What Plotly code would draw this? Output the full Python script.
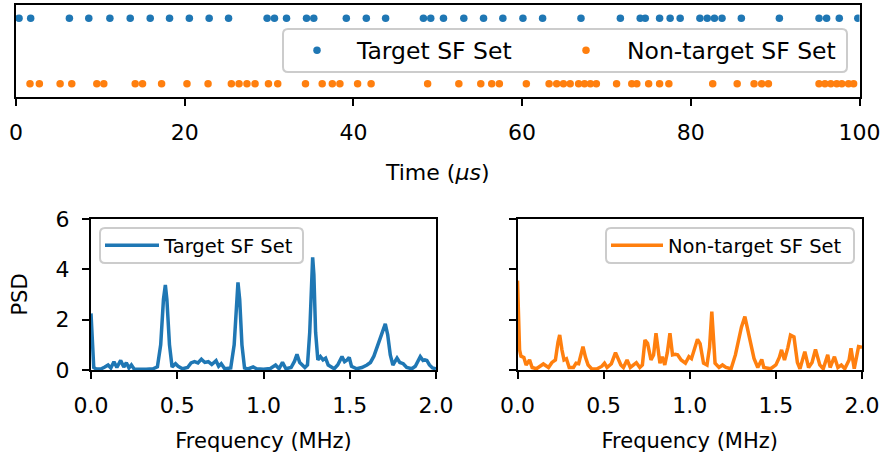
import plotly.graph_objects as go

# ---- data ----
target_times = [0.36, 1.74, 6.33, 8.63, 11.13, 13.54, 15.91, 18.2, 20.55, 22.9, 25.2, 29.77, 30.64, 32.07,
                34.44, 35.3, 39.16, 41.53, 43.82, 48.3, 49.17, 50.68, 53.09, 55.43, 57.72, 60.1, 62.43, 66.98,
                71.65, 74.0, 74.6, 76.3, 77.55, 78.74, 81.08, 81.95, 82.8, 83.7, 85.99, 90.5, 95.2, 96.1, 97.6, 99.8]
nontarget_times = [1.66, 2.77, 5.23, 6.61, 9.58, 10.41, 14.13, 15.0, 17.26, 20.27, 22.77, 25.53, 26.44, 27.38,
                   28.34, 29.93, 31.03, 34.32, 36.3, 37.5, 38.4, 40.5, 42.1, 48.8, 52.5, 55.1, 56.4, 57.3, 60.5,
                   63.2, 64.1, 64.9, 65.7, 66.7, 67.4, 68.1, 68.8, 71.2, 73.0, 73.6, 75.0, 76.3, 77.4, 82.6, 85.5,
                   87.5, 88.4, 89.2, 95.2, 95.9, 96.6, 97.3, 97.9, 98.7, 99.3]

target_freq = [0.0, 0.008, 0.016, 0.03, 0.06, 0.08, 0.099, 0.115, 0.133, 0.15, 0.172, 0.19, 0.205, 0.22, 0.234,
               0.25, 0.28, 0.32, 0.36, 0.385, 0.404, 0.42, 0.431, 0.44, 0.455, 0.47, 0.49, 0.505, 0.53, 0.56,
               0.58, 0.6, 0.62, 0.64, 0.66, 0.68, 0.7, 0.725, 0.74, 0.755, 0.775, 0.81, 0.83, 0.843, 0.852,
               0.862, 0.875, 0.89, 0.91, 0.94, 0.96, 1.0, 1.04, 1.07, 1.09, 1.11, 1.13, 1.16, 1.18, 1.194,
               1.21, 1.24, 1.255, 1.268, 1.278, 1.285, 1.292, 1.302, 1.315, 1.33, 1.345, 1.36, 1.375, 1.39,
               1.41, 1.43, 1.455, 1.47, 1.485, 1.497, 1.51, 1.54, 1.57, 1.6, 1.62, 1.64, 1.66, 1.685, 1.706,
               1.72, 1.735, 1.75, 1.774, 1.79, 1.81, 1.83, 1.86, 1.88, 1.895, 1.909, 1.925, 1.935, 1.947,
               1.962, 1.98, 2.0]
target_psd = [2.25, 1.2, 0.1, 0.04, 0.05, 0.12, 0.2, 0.08, 0.33, 0.1, 0.38, 0.12, 0.29, 0.08, 0.2,
              0.04, 0.03, 0.03, 0.05, 0.13, 1.0, 2.8, 3.38, 2.8, 1.0, 0.12, 0.25, 0.15, 0.05, 0.1,
              0.28, 0.33, 0.28, 0.43, 0.3, 0.33, 0.22, 0.37, 0.15, 0.25, 0.05, 0.08, 1.0, 2.8, 3.48,
              2.8, 1.0, 0.08, 0.04, 0.12, 0.05, 0.03, 0.06, 0.2, 0.05, 0.3, 0.05, 0.1, 0.35, 0.62,
              0.3, 0.1, 0.2, 1.5, 3.8, 4.48, 3.8, 1.5, 0.4, 0.53, 0.4, 0.47, 0.2, 0.12,
              0.05, 0.2, 0.53, 0.33, 0.4, 0.5, 0.15, 0.05, 0.1, 0.2, 0.3, 0.55, 0.93, 1.5, 1.83,
              1.4, 0.6, 0.2, 0.47, 0.3, 0.25, 0.1, 0.05, 0.15, 0.35, 0.53, 0.38, 0.4, 0.38,
              0.2, 0.08, 0.05]

nontarget_freq = [0.0, 0.006, 0.012, 0.02, 0.037, 0.05, 0.07, 0.085, 0.11, 0.15, 0.18, 0.2, 0.22, 0.235, 0.245,
                  0.258, 0.27, 0.284, 0.3, 0.325, 0.34, 0.355, 0.37, 0.38, 0.395, 0.41, 0.43, 0.46, 0.49,
                  0.505, 0.52, 0.545, 0.569, 0.585, 0.6, 0.615, 0.636, 0.655, 0.69, 0.71, 0.725, 0.74, 0.755,
                  0.775, 0.79, 0.804, 0.815, 0.827, 0.84, 0.855, 0.87, 0.885, 0.9, 0.915, 0.93, 0.95, 0.975,
                  0.995, 1.01, 1.03, 1.045, 1.06, 1.08, 1.1, 1.115, 1.128, 1.14, 1.147, 1.17, 1.19, 1.21,
                  1.24, 1.265, 1.283, 1.3, 1.32, 1.34, 1.36, 1.373, 1.395, 1.418, 1.43, 1.47, 1.5, 1.52,
                  1.533, 1.55, 1.57, 1.585, 1.605, 1.625, 1.64, 1.668, 1.69, 1.71, 1.73, 1.755, 1.775,
                  1.801, 1.815, 1.84, 1.86, 1.88, 1.9, 1.925, 1.936, 1.955, 1.98, 2.0]
nontarget_psd = [3.55, 2.0, 0.8, 0.55, 0.5, 0.2, 0.4, 0.1, 0.05, 0.24, 0.1, 0.3, 0.4, 1.1, 1.39,
                 0.8, 0.4, 0.45, 0.1, 0.1, 0.27, 0.25, 0.7, 0.93, 0.5, 0.2, 0.05, 0.04, 0.15,
                 0.27, 0.1, 0.25, 0.69, 0.4, 0.2, 0.1, 0.4, 0.1, 0.29, 0.1, 0.2, 1.19, 1.06,
                 0.4, 0.6, 1.46, 0.8, 0.27, 0.53, 0.2, 0.7, 1.46, 0.6, 0.62, 0.6, 0.4, 0.27,
                 0.53, 0.45, 0.9, 1.22, 1.05, 0.27, 0.2, 0.9, 2.32, 1.0, 0.27, 0.1, 0.2, 0.1,
                 0.05, 0.6, 1.19, 1.7, 2.12, 1.46, 0.8, 0.46, 0.1, 0.42, 0.1, 0.05, 0.2, 0.5,
                 0.8, 0.4, 0.9, 1.39, 1.32, 0.3, 0.05, 0.73, 0.1, 0.3, 0.82, 0.2, 0.05,
                 0.6, 0.1, 0.53, 0.1, 0.2, 0.05, 0.4, 0.86, 0.05, 0.93, 0.9]

time_ticks = [0, 20, 40, 60, 80, 100]
freq_ticks = [0.0, 0.5, 1.0, 1.5, 2.0]
freq_ticktext = ["0.0", "0.5", "1.0", "1.5", "2.0"]
psd_ticks = [0, 2, 4, 6]

BLUE = "#1f77b4"
ORANGE = "#ff7f0e"
FONT = "DejaVu Sans"
W, H = 883, 463


def px(x):
    return x / W


def py(y):
    return 1 - y / H


def rounded_frame(x0, y0, x1, y1, r=5):
    """Rounded rectangle path in paper coords from pixel corners (legend frame)."""
    rx, ry = r / W, r / H
    X0, X1 = px(x0), px(x1)
    Y0, Y1 = py(y1), py(y0)  # bottom, top
    d = (f"M {X0 + rx},{Y1} L {X1 - rx},{Y1} Q {X1},{Y1} {X1},{Y1 - ry} "
         f"L {X1},{Y0 + ry} Q {X1},{Y0} {X1 - rx},{Y0} "
         f"L {X0 + rx},{Y0} Q {X0},{Y0} {X0},{Y0 + ry} "
         f"L {X0},{Y1 - ry} Q {X0},{Y1} {X0 + rx},{Y1} Z")
    return dict(type="path", xref="paper", yref="paper", path=d,
                line=dict(color="#cccccc", width=2), fillcolor="rgba(255,255,255,0.8)",
                layer="above")


fig = go.Figure()
fig.add_trace(go.Scatter(x=target_times, y=[1] * len(target_times), mode="markers",
                         marker=dict(color=BLUE, size=7.5), name="Target SF Set",
                         xaxis="x", yaxis="y", legend="legend5", showlegend=True))
fig.add_trace(go.Scatter(x=nontarget_times, y=[0] * len(nontarget_times), mode="markers",
                         marker=dict(color=ORANGE, size=7.5), name="Non-target SF Set",
                         xaxis="x", yaxis="y", legend="legend4", showlegend=True))
fig.add_trace(go.Scatter(x=target_freq, y=target_psd, mode="lines",
                         line=dict(color=BLUE, width=3.5), name="Target SF Set",
                         xaxis="x2", yaxis="y2", legend="legend2", showlegend=True))
fig.add_trace(go.Scatter(x=nontarget_freq, y=nontarget_psd, mode="lines",
                         line=dict(color=ORANGE, width=3.5), name="Non-target SF Set",
                         xaxis="x3", yaxis="y3", legend="legend3", showlegend=True))

axis_common = dict(showline=True, linecolor="black", linewidth=2, mirror=True, showgrid=False,
                   zeroline=False, ticks="outside", ticklen=7, tickwidth=2, tickcolor="black",
                   automargin=False, ticklabelstandoff=8,
                   tickfont=dict(family=FONT, size=22, color="black"))

leg_common = dict(bgcolor="rgba(0,0,0,0)", borderwidth=0, yanchor="middle", xanchor="left")

fig.update_layout(
    width=W, height=H, margin=dict(l=0, r=0, t=0, b=0, autoexpand=False),
    paper_bgcolor="white", plot_bgcolor="white", showlegend=True,
    font=dict(family=FONT, color="black"),
    xaxis=dict(domain=[px(16), px(859.5)], range=[0, 100], tickvals=time_ticks, anchor="y",
               title=dict(text="Time (<i>μs</i>)", font=dict(family=FONT, size=22), standoff=20),
               **axis_common),
    yaxis=dict(domain=[py(97), py(5)], range=[-0.2, 1.2], anchor="x", showline=True, linecolor="black",
               linewidth=2, mirror=True, showgrid=False, zeroline=False, ticks="", showticklabels=False,
               automargin=False),
    xaxis2=dict(domain=[px(91), px(436)], range=[0, 2], tickvals=freq_ticks, ticktext=freq_ticktext,
                anchor="y2",
                title=dict(text="Frequency (MHz)", font=dict(family=FONT, size=21), standoff=16),
                **axis_common),
    yaxis2=dict(domain=[py(370), py(219)], range=[0, 6], tickvals=psd_ticks, anchor="x2",
                title=dict(text="PSD", font=dict(family=FONT, size=21), standoff=22),
                **axis_common),
    xaxis3=dict(domain=[px(517.5), px(862)], range=[0, 2], tickvals=freq_ticks, ticktext=freq_ticktext,
                anchor="y3",
                title=dict(text="Frequency (MHz)", font=dict(family=FONT, size=21), standoff=16),
                **axis_common),
    yaxis3=dict(domain=[py(370), py(219)], range=[0, 6], tickvals=psd_ticks, anchor="x3",
                showticklabels=False, **axis_common),
    legend5=dict(x=px(277), y=py(50.5), font=dict(family=FONT, size=23.5), itemwidth=70, **leg_common),
    legend4=dict(x=px(545), y=py(50.5), font=dict(family=FONT, size=23.5), itemwidth=72, **leg_common),
    legend2=dict(x=px(100), y=py(245.5), font=dict(family=FONT, size=19.5), itemwidth=54, **leg_common),
    legend3=dict(x=px(606), y=py(245.5), font=dict(family=FONT, size=19.5), itemwidth=52, **leg_common),
    shapes=[rounded_frame(283, 29, 847, 72),
            rounded_frame(100, 228, 303, 263),
            rounded_frame(606, 228, 854, 263)],
)

fig.write_html("out.html")
